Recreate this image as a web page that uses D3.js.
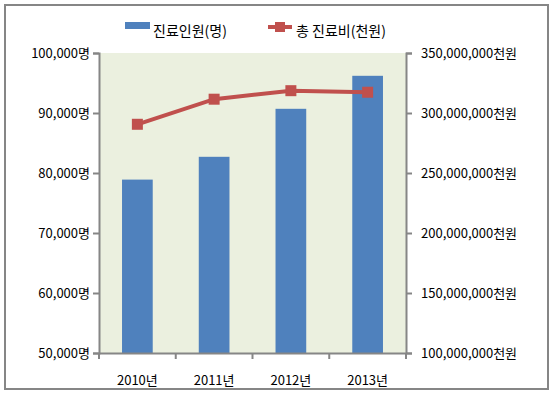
<!DOCTYPE html>
<html><head><meta charset="utf-8">
<script src="https://cdn.jsdelivr.net/npm/d3@7"></script>
<style>body{margin:0;background:#fff}svg{display:block}text{font-family:"Noto Sans CJK KR","Noto Sans",sans-serif;fill:#000}</style>
</head><body>
<script>
const categories = ["2010년","2011년","2012년","2013년"];
const patients = [78900, 82700, 90700, 96200];
const costs = [290600000, 311500000, 318600000, 317300000];
const leftTicks = [50000,60000,70000,80000,90000,100000];
const rightTicks = [100000000,150000000,200000000,250000000,300000000,350000000];
const seriesNames = ["진료인원(명)","총 진료비(천원)"];

const W=552,H=398;
const svg=d3.select("body").append("svg").attr("width",W).attr("height",H);
svg.append("rect").attr("x",5).attr("y",5).attr("width",543).attr("height",384)
  .attr("fill","#fff").attr("stroke","#868686").attr("stroke-width",2);

const L=99,R=406,T=53,B=353;
const x=d3.scaleBand().domain(categories).range([L,R]);
const yL=d3.scaleLinear().domain([50000,100000]).range([B,T]);
const yR=d3.scaleLinear().domain([100000000,350000000]).range([B,T]);

svg.append("rect").attr("x",L).attr("y",T).attr("width",R-L).attr("height",B-T).attr("fill","#EBF0DF");

// bars
svg.selectAll(".bar").data(categories).enter().append("rect")
  .attr("x",d=>x(d)+x.bandwidth()*0.3).attr("width",x.bandwidth()*0.4)
  .attr("y",(d,i)=>yL(patients[i])).attr("height",(d,i)=>B-yL(patients[i]))
  .attr("fill","#4F81BD");

const fmt=d3.format(",");
const gL=svg.append("g").attr("transform",`translate(${L},0)`)
  .call(d3.axisLeft(yL).tickValues(leftTicks).tickSize(6).tickPadding(3).tickFormat(d=>fmt(d)+"명"));
const gR=svg.append("g").attr("transform",`translate(${R},0)`)
  .call(d3.axisRight(yR).tickValues(rightTicks).tickSize(6).tickPadding(9).tickFormat(d=>fmt(d)+"천원"));
const gB=svg.append("g").attr("transform",`translate(0,${B})`)
  .call(d3.axisBottom(x).tickSize(0).tickPadding(23));
[gL,gR,gB].forEach(g=>{
  g.select(".domain").attr("stroke","#868686").attr("stroke-width",2);
  g.selectAll(".tick line").attr("stroke","#868686").attr("stroke-width",2);
  g.selectAll("text").style("font-size","13px").attr("fill","#000");
});
const bounds=categories.map(c=>x(c)).concat([R]);
svg.selectAll(".bt").data(bounds).enter().append("line")
  .attr("x1",d=>d).attr("x2",d=>d).attr("y1",B).attr("y2",B+6)
  .attr("stroke","#868686").attr("stroke-width",2);

const line=d3.line().x((d,i)=>x(categories[i])+x.bandwidth()/2).y(d=>yR(d));
svg.append("path").datum(costs).attr("d",line).attr("fill","none")
  .attr("stroke","#C0504D").attr("stroke-width",4);
svg.selectAll(".mk").data(costs).enter().append("rect")
  .attr("x",(d,i)=>x(categories[i])+x.bandwidth()/2-5.5).attr("y",d=>yR(d)-5.5)
  .attr("width",11).attr("height",11).attr("fill","#C0504D");

svg.append("rect").attr("x",125).attr("y",22).attr("width",25).attr("height",7).attr("fill","#4F81BD");
svg.append("text").attr("x",153).attr("y",36).style("font-size","14px").text(seriesNames[0]);
svg.append("line").attr("x1",268).attr("x2",292).attr("y1",27).attr("y2",27).attr("stroke","#C0504D").attr("stroke-width",4);
svg.append("rect").attr("x",275).attr("y",22).attr("width",10).attr("height",10).attr("fill","#C0504D");
svg.append("text").attr("x",296).attr("y",36).style("font-size","14px").text(seriesNames[1]);
</script>
</body></html>
